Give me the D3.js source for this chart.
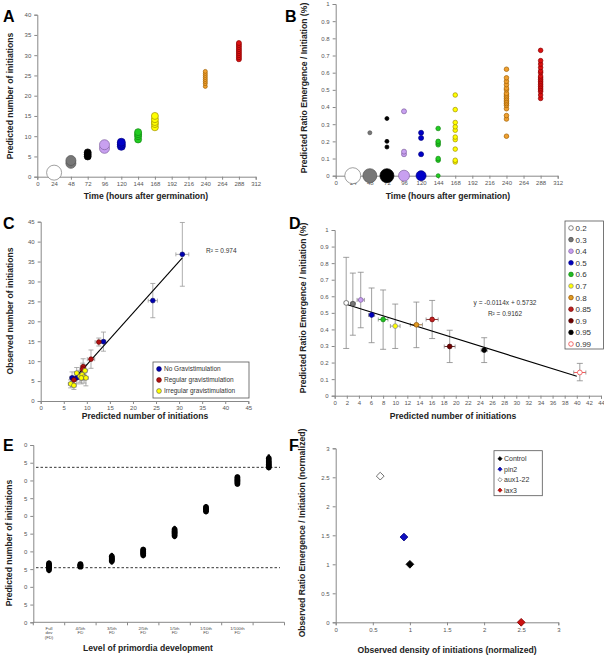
<!DOCTYPE html>
<html><head><meta charset="utf-8">
<script src="https://cdn.jsdelivr.net/npm/d3@7"></script>
<style>
body{margin:0;background:#fff;}
svg{display:block;font-family:Arial,"Liberation Sans",sans-serif;}
.tick text{fill:#555;font-size:6px;}
.domain,.tick line{stroke:#888;}
.title{font-weight:bold;font-size:8.6px;fill:#222;}
.letter{font-weight:bold;font-size:16px;fill:#000;}
</style></head>
<body>
<script>
// ---------- DATA ----------
// Panel A
const aTimes = [24, 48, 72, 96, 120, 144, 168, 240, 288];
const aValues = [
  [1], [3.3, 4], [5, 5.5, 6], [7, 7.9], [7.5, 8, 8.5],
  [9.2, 10, 10.5, 11], [12.2, 13, 13.5, 14.2, 15],
  [22.3, 23, 23.5, 24, 24.5, 25, 25.5, 26],
  [29, 29.5, 30, 30.5, 31, 31.5, 32, 32.5, 33]
];
const xTimeTicks = [0, 24, 48, 72, 96, 120, 144, 168, 192, 216, 240, 264, 288, 312];
// Panel B
const bValues = [
  [0], [0, 0.25], [0, 0.167, 0.2, 0.333], [0, 0.125, 0.14, 0.375], [0, 0.125, 0.22, 0.25],
  [0, 0.09, 0.1, 0.18, 0.19, 0.2, 0.275],
  [0.08, 0.09, 0.155, 0.21, 0.225, 0.265, 0.285, 0.31, 0.385, 0.47],
  [0.23, 0.33, 0.35, 0.39, 0.41, 0.42, 0.43, 0.44, 0.45, 0.46, 0.47, 0.48, 0.5, 0.51, 0.53, 0.55, 0.57, 0.62],
  [0.45, 0.47, 0.49, 0.5, 0.51, 0.52, 0.53, 0.54, 0.55, 0.56, 0.57, 0.58, 0.6, 0.61, 0.63, 0.65, 0.67, 0.73]
];
// Panel C
const cSeries = ["No Gravistimulation", "Regular gravistimulation", "Irregular gravistimulation"];
const cNoX = [30.7, 24.3, 13.6, 7.8, 6.8];
const cNoY = [36.8, 25.2, 14.9, 5.8, 5.8];
const cNoXErr = [1.4, 1.0, 0.5, 0.5, 0.5];
const cNoYErr = [8, 4.3, 2.4, 1.5, 1.5];
const cRegX = [12.6, 10.9, 9.2, 9.1, 7.2];
const cRegY = [14.8, 10.5, 8.6, 8.0, 5.3];
const cRegXErr = [0.8, 0.8, 0.6, 0.6, 0.5];
const cRegYErr = [1, 2.3, 2, 1.5, 1];
const cIrrX = [6.5, 7.2, 7.8, 8.5, 9.0, 9.4, 9.6, 8.8, 9.8];
const cIrrY = [4.3, 3.9, 7.0, 6.2, 6.6, 6.0, 7.6, 5.8, 5.8];
const cIrrXErr = [0.5, 0.5, 0.5, 0.5, 0.5, 0.5, 0.5, 0.5, 0.5];
const cIrrYErr = [1, 1, 1.4, 1.5, 1.5, 1.5, 1.5, 1.5, 2];
const cFitX = [7.3, 30.7];
const cFitY = [5.6, 35.9];
const cR2 = "R² = 0.974";
// Panel D
const dLabels = ["0.2", "0.3", "0.4", "0.5", "0.6", "0.7", "0.8", "0.85", "0.9", "0.95", "0.99"];
const dX = [1.9, 3.0, 4.3, 6.1, 8.0, 10.0, 13.5, 16.1, 19.0, 24.7, 40.5];
const dY = [0.56, 0.555, 0.578, 0.487, 0.46, 0.42, 0.428, 0.46, 0.297, 0.275, 0.14];
const dXErr = [0.3, 0.4, 0.6, 0.5, 0.8, 0.8, 1.0, 1.0, 0.9, 0.5, 1.0];
const dYLow = [0.285, 0.365, 0.41, 0.32, 0.28, 0.285, 0.29, 0.345, 0.2, 0.2, 0.09];
const dYHigh = [0.835, 0.74, 0.745, 0.65, 0.638, 0.553, 0.565, 0.575, 0.395, 0.35, 0.195];
const dSlope = -0.0114, dIntercept = 0.5732, dFitRange = [2, 40];
const dEq = "y = -0.0114x + 0.5732", dR2 = "R² = 0.9162";
// Panel E
const eCategories = [["Full", "dev", "(FD)"], ["4/5th", "FD"], ["3/5th", "FD"], ["2/5th", "FD"], ["1/5th", "FD"], ["1/10th", "FD"], ["1/100th", "FD"], [""]];
const eValues = [
  [14.2, 14.8, 15.3, 15.6, 15.9, 16.2, 16.6, 17.0],
  [15.4, 15.7, 15.9, 16.1, 16.4, 16.7],
  [16.6, 17.3, 17.6, 17.9, 18.2, 18.6, 19.2],
  [18.4, 19.0, 19.4, 19.8, 20.1, 20.5, 20.9],
  [23.8, 24.4, 24.9, 25.3, 25.7, 26.2, 26.8],
  [30.8, 31.3, 31.8, 32.1, 32.5, 33.0],
  [38.6, 39.1, 39.6, 40.0, 40.4, 40.9, 41.3],
  [43.2, 43.7, 44.1, 44.5, 45.0, 45.5, 46.2, 47.0]
];
const eDashed = [43.7, 15.4];
// Panel F
const fLabels = ["Control", "pin2", "aux1-22", "lax3"];
const fX = [1, 0.92, 0.6, 2.5];
const fY = [1, 1.47, 2.52, 0];

// ---------- STYLES ----------
const timeFill = ["#ffffff", "#777777", "#000000", "#c8a0f0", "#0000c8", "#22cc22", "#ffff00", "#f0a030", "#dd1111"];
const timeStroke = ["#777", "#555", "#000", "#8060a0", "#000080", "#118811", "#a09000", "#a06000", "#880000"];
const aRadius = [7.5, 5, 3.5, 5, 4, 3.5, 3.5, 2, 2.5];
const bZeroRadius = [8, 7, 7, 5.5, 5, 2, 2, 2, 2];
const bSmallRadius = [2, 2, 2, 2.5, 2.5, 2.3, 2.3, 2.3, 2.3];
const cFill = ["#0000b0", "#b01010", "#ffff00"];
const cStroke = ["#000060", "#600000", "#555"];
const dFill = ["#fff", "#777", "#c8a0f0", "#0000c0", "#22bb22", "#ffff00", "#e09a20", "#c02020", "#700000", "#000", "#fff"];
const dStroke = ["#555", "#444", "#8060a0", "#000080", "#118811", "#888", "#905000", "#700000", "#400000", "#000", "#ee3333"];
const fFill = ["#000", "#1010c0", "#fff", "#cc1111"];
const fStroke = ["#000", "#000080", "#555", "#800000"];

const svg = d3.select("body").append("svg").attr("width", 604).attr("height", 657);

function axes(g, x, y, xt, yt, xfmt, yfmt) {
  const ax = d3.axisBottom(x).tickSize(3).tickPadding(2);
  if (xt) ax.tickValues(xt); if (xfmt) ax.tickFormat(xfmt);
  const ay = d3.axisLeft(y).tickSize(3).tickPadding(3);
  if (yt) ay.tickValues(yt); if (yfmt) ay.tickFormat(yfmt);
  g.append("g").attr("transform", `translate(0,${y.range()[0]})`).call(ax);
  g.append("g").attr("transform", `translate(${x.range()[0]},0)`).call(ay);
}
function letter(t, x, y) { svg.append("text").attr("class", "letter").attr("x", x).attr("y", y).text(t); }
function xTitle(t, x, y) { svg.append("text").attr("class", "title").attr("x", x).attr("y", y).attr("text-anchor", "middle").text(t); }
function yTitle(t, x, y) { svg.append("text").attr("class", "title").attr("transform", `translate(${x},${y}) rotate(-90)`).attr("text-anchor", "middle").text(t); }
const fmt = d3.format("");
const diamond = s => d3.symbol(d3.symbolSquare, s)();

// ---------- PANEL A ----------
{
  const x = d3.scaleLinear().domain([0, 312]).range([37.3, 255.7]);
  const y = d3.scaleLinear().domain([0, 40]).range([176.7, 14.7]);
  const g = svg.append("g");
  axes(g, x, y, xTimeTicks, d3.range(0, 41, 5), fmt, fmt);
  aTimes.forEach((t, i) => {
    g.selectAll(null).data(aValues[i]).join("circle")
      .attr("cx", x(t)).attr("cy", d => y(d)).attr("r", aRadius[i])
      .attr("fill", timeFill[i]).attr("stroke", timeStroke[i]).attr("stroke-width", 0.7);
  });
  letter("A", 3, 22);
  xTitle("Time (hours after germination)", 146, 199);
  yTitle("Predicted  number of initiations", 13, 96);
}
// ---------- PANEL B ----------
{
  const x = d3.scaleLinear().domain([0, 312]).range([335.7, 557.7]);
  const y = d3.scaleLinear().domain([0, 1]).range([175.7, 4]);
  const g = svg.append("g");
  axes(g, x, y, xTimeTicks, d3.range(0, 1.01, 0.1), fmt, d3.format(""));
  aTimes.forEach((t, i) => {
    g.selectAll(null).data(bValues[i]).join("circle")
      .attr("cx", x(t)).attr("cy", d => y(d)).attr("r", d => d === 0 ? bZeroRadius[i] : bSmallRadius[i])
      .attr("fill", timeFill[i]).attr("stroke", timeStroke[i]).attr("stroke-width", 0.7);
  });
  letter("B", 285, 22);
  xTitle("Time (hours after germination)", 448, 199);
  yTitle("Predicted Ratio Emergence / Initiation (%)", 307, 88);
}
// ---------- PANEL C ----------
{
  const x = d3.scaleLinear().domain([0, 45]).range([40.7, 248.3]);
  const y = d3.scaleLinear().domain([0, 45]).range([401, 221.7]);
  const g = svg.append("g");
  axes(g, x, y, d3.range(0, 46, 5), d3.range(0, 46, 5), fmt, fmt);
  const series = [
    [cNoX, cNoY, cNoXErr, cNoYErr], [cRegX, cRegY, cRegXErr, cRegYErr], [cIrrX, cIrrY, cIrrXErr, cIrrYErr]
  ];
  series.forEach(([xs, ys, xe, ye]) => {
    xs.forEach((xv, j) => {
      const eg = g.append("g").attr("stroke", "#999").attr("stroke-width", 0.8);
      eg.append("line").attr("x1", x(xv)).attr("x2", x(xv)).attr("y1", y(ys[j] - ye[j])).attr("y2", y(ys[j] + ye[j]));
      eg.append("line").attr("x1", x(xv) - 2.5).attr("x2", x(xv) + 2.5).attr("y1", y(ys[j] - ye[j])).attr("y2", y(ys[j] - ye[j]));
      eg.append("line").attr("x1", x(xv) - 2.5).attr("x2", x(xv) + 2.5).attr("y1", y(ys[j] + ye[j])).attr("y2", y(ys[j] + ye[j]));
      eg.append("line").attr("x1", x(xv - xe[j])).attr("x2", x(xv + xe[j])).attr("y1", y(ys[j])).attr("y2", y(ys[j]));
      eg.append("line").attr("x1", x(xv - xe[j])).attr("x2", x(xv - xe[j])).attr("y1", y(ys[j]) - 2).attr("y2", y(ys[j]) + 2);
      eg.append("line").attr("x1", x(xv + xe[j])).attr("x2", x(xv + xe[j])).attr("y1", y(ys[j]) - 2).attr("y2", y(ys[j]) + 2);
    });
  });
  g.append("line").attr("x1", x(cFitX[0])).attr("y1", y(cFitY[0])).attr("x2", x(cFitX[1])).attr("y2", y(cFitY[1]))
    .attr("stroke", "#000").attr("stroke-width", 1.1);
  series.forEach(([xs, ys], k) => {
    g.selectAll(null).data(xs).join("circle").attr("cx", d => x(d)).attr("cy", (d, j) => y(ys[j])).attr("r", 2.4)
      .attr("fill", cFill[k]).attr("stroke", cStroke[k]).attr("stroke-width", 0.6);
  });
  g.append("text").attr("x", 206).attr("y", 253).attr("font-size", 6.5).attr("fill", "#333").text(cR2);
  const lg = g.append("g").attr("transform", "translate(153,362)");
  lg.append("rect").attr("width", 96).attr("height", 36).attr("fill", "#fff").attr("stroke", "#555").attr("stroke-width", 0.8);
  cSeries.forEach((s, k) => {
    lg.append("circle").attr("cx", 6).attr("cy", 7 + k * 11).attr("r", 2.4).attr("fill", cFill[k]).attr("stroke", cStroke[k]).attr("stroke-width", 0.6);
    lg.append("text").attr("x", 11).attr("y", 9.3 + k * 11).attr("font-size", 6.5).attr("fill", "#333").text(s);
  });
  letter("C", 3, 229);
  xTitle("Predicted number of initiations", 145, 419);
  yTitle("Observed number of initiations", 13, 311);
}
// ---------- PANEL D ----------
{
  const x = d3.scaleLinear().domain([0, 44]).range([334.7, 601]);
  const y = d3.scaleLinear().domain([0, 1]).range([395.7, 230]);
  const g = svg.append("g");
  axes(g, x, y, d3.range(0, 45, 2), d3.range(0, 1.01, 0.1), fmt, d3.format(""));
  dX.forEach((xv, j) => {
    const eg = g.append("g").attr("stroke", "#888").attr("stroke-width", 0.8);
    eg.append("line").attr("x1", x(xv)).attr("x2", x(xv)).attr("y1", y(dYLow[j])).attr("y2", y(dYHigh[j]));
    [dYLow[j], dYHigh[j]].forEach(v => eg.append("line").attr("x1", x(xv) - 3).attr("x2", x(xv) + 3).attr("y1", y(v)).attr("y2", y(v)));
    eg.append("line").attr("x1", x(xv - dXErr[j])).attr("x2", x(xv + dXErr[j])).attr("y1", y(dY[j])).attr("y2", y(dY[j])).attr("stroke", dStroke[j] === "#000" ? "#888" : dStroke[j]);
    [xv - dXErr[j], xv + dXErr[j]].forEach(v => eg.append("line").attr("x1", x(v)).attr("x2", x(v)).attr("y1", y(dY[j]) - 2).attr("y2", y(dY[j]) + 2));
  });
  g.append("line").attr("x1", x(dFitRange[0])).attr("y1", y(dSlope * dFitRange[0] + dIntercept))
    .attr("x2", x(dFitRange[1])).attr("y2", y(dSlope * dFitRange[1] + dIntercept)).attr("stroke", "#000").attr("stroke-width", 1.1);
  g.selectAll(null).data(dX).join("circle").attr("cx", d => x(d)).attr("cy", (d, j) => y(dY[j])).attr("r", 2.4)
    .attr("fill", (d, j) => dFill[j]).attr("stroke", (d, j) => dStroke[j]).attr("stroke-width", 0.7);
  g.append("text").attr("x", 505).attr("y", 305).attr("text-anchor", "middle").attr("font-size", 6.5).attr("fill", "#333").text(dEq);
  g.append("text").attr("x", 505).attr("y", 315.5).attr("text-anchor", "middle").attr("font-size", 6.5).attr("fill", "#333").text(dR2);
  const lg = g.append("g").attr("transform", "translate(565,221)");
  lg.append("rect").attr("width", 38.5).attr("height", 128).attr("fill", "#fff").attr("stroke", "#555").attr("stroke-width", 0.8);
  dLabels.forEach((s, k) => {
    lg.append("circle").attr("cx", 6).attr("cy", 7 + k * 11.6).attr("r", 2.3).attr("fill", dFill[k]).attr("stroke", dStroke[k]).attr("stroke-width", 0.7);
    lg.append("text").attr("x", 10.5).attr("y", 10 + k * 11.6).attr("font-size", 8).attr("fill", "#333").text(s);
  });
  letter("D", 289, 229);
  xTitle("Predicted number of initiations", 453, 419);
  yTitle("Predicted Ratio Emergence / Initiation (%)", 306, 308);
}
// ---------- PANEL E ----------
{
  const x = d3.scaleBand().domain(d3.range(eCategories.length)).range([33.3, 284.5]);
  const y = d3.scaleLinear().domain([0, 50]).range([622.3, 445]);
  const g = svg.append("g");
  g.append("line").attr("x1", x.range()[0]).attr("x2", x.range()[1]).attr("y1", y(0)).attr("y2", y(0)).attr("stroke", "#888");
  g.selectAll(null).data(d3.range(eCategories.length + 1)).join("line")
    .attr("x1", d => 33.3 + d * x.step()).attr("x2", d => 33.3 + d * x.step()).attr("y1", y(0)).attr("y2", y(0) + 3).attr("stroke", "#888");
  g.append("g").attr("transform", `translate(${x.range()[0]},0)`)
    .call(d3.axisLeft(y).tickValues(d3.range(0, 51, 5)).tickSize(3).tickPadding(3).tickFormat(d => String(d).slice(-1)));
  eCategories.forEach((lines, i) => {
    lines.forEach((l, k) => g.append("text").attr("x", x(i) + x.bandwidth() / 2).attr("y", 629.5 + k * 4.5)
      .attr("text-anchor", "middle").attr("font-size", 4.3).attr("fill", "#444").text(l));
  });
  eDashed.forEach(v => g.append("line").attr("x1", 36).attr("x2", 280).attr("y1", y(v)).attr("y2", y(v))
    .attr("stroke", "#000").attr("stroke-width", 0.8).attr("stroke-dasharray", "2.5,2"));
  eValues.forEach((vals, i) => {
    g.selectAll(null).data(vals).join("circle")
      .attr("cx", x(i) + x.bandwidth() / 2).attr("cy", d => y(d))
      .attr("r", (d, j) => (j === 0 || j === vals.length - 1) ? 1.4 : 2.9).attr("fill", "#000");
  });
  letter("E", 3, 451);
  xTitle("Level of primordia development", 148, 651);
  yTitle("Predicted  number of initiations", 12, 543);
}
// ---------- PANEL F ----------
{
  const x = d3.scaleLinear().domain([0, 3]).range([335.7, 558.3]);
  const y = d3.scaleLinear().domain([0, 3]).range([622.3, 448.3]);
  const g = svg.append("g");
  axes(g, x, y, d3.range(0, 3.01, 0.5), d3.range(0, 3.01, 0.5), d3.format(""), d3.format(""));
  g.selectAll(null).data(fX).join("path").attr("d", diamond(30))
    .attr("transform", (d, j) => `translate(${x(d)},${y(fY[j])}) rotate(45)`)
    .attr("fill", (d, j) => fFill[j]).attr("stroke", (d, j) => fStroke[j]).attr("stroke-width", 0.8);
  const lg = g.append("g").attr("transform", "translate(494,450.7)");
  lg.append("rect").attr("width", 48.3).attr("height", 45).attr("fill", "#fff").attr("stroke", "#555").attr("stroke-width", 0.8);
  fLabels.forEach((s, k) => {
    lg.append("path").attr("d", diamond(9)).attr("transform", `translate(6,${8 + k * 10.5}) rotate(45)`)
      .attr("fill", fFill[k]).attr("stroke", fStroke[k]).attr("stroke-width", 0.6);
    lg.append("text").attr("x", 10).attr("y", 10.7 + k * 10.5).attr("font-size", 7).attr("fill", "#333").text(s);
  });
  letter("F", 289, 451);
  xTitle("Observed density of initiations (normalized)", 447, 653);
  yTitle("Observed Ratio Emergence / Initiation (normalized)", 305, 533);
}
</script>
</body></html>
